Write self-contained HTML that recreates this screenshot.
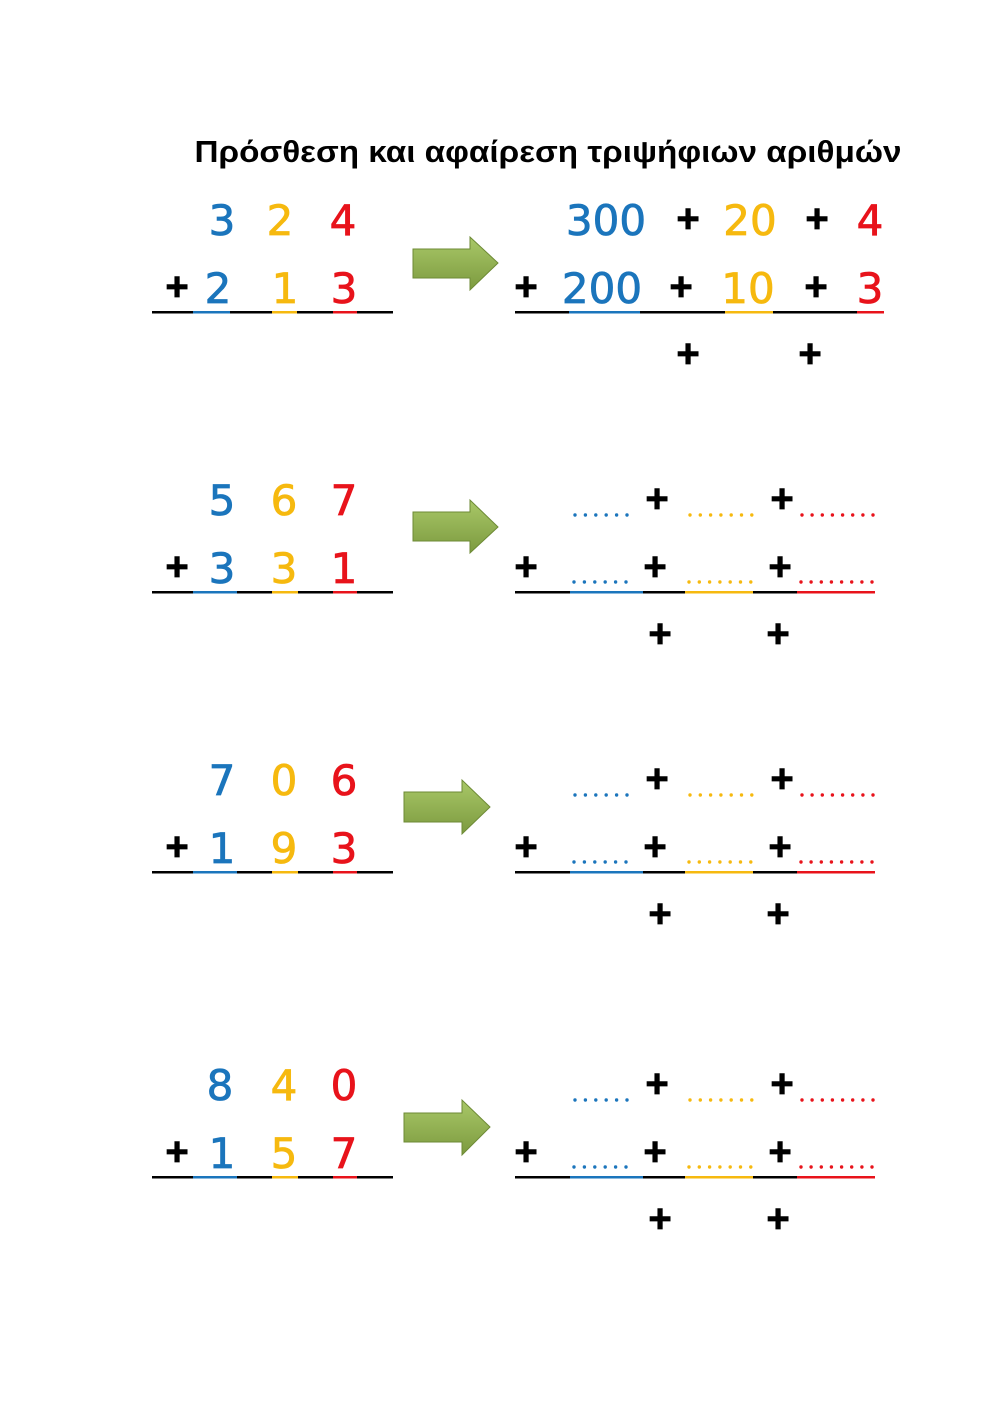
<!DOCTYPE html>
<html><head><meta charset="utf-8"><style>
html,body{margin:0;padding:0;background:#fff}
svg{display:block}
.d{font-family:"DejaVu Sans","Liberation Sans",sans-serif;font-size:42px;text-anchor:middle;stroke-width:0.8px}
.p{font-family:"Liberation Sans",sans-serif;font-size:40px;font-weight:bold;text-anchor:middle;fill:#000;stroke:#000;stroke-width:0.8px}
.b{fill:#1b75bc;stroke:#1b75bc}.y{fill:#f6b90f;stroke:#f6b90f}.r{fill:#e8131b;stroke:#e8131b}
rect.b,rect.y,rect.r,circle{stroke:none}
.t{font-family:"Liberation Sans","DejaVu Sans",sans-serif;font-size:31px;font-weight:bold;text-anchor:middle}
</style></head><body>
<svg width="1000" height="1413" viewBox="0 0 1000 1413" xmlns="http://www.w3.org/2000/svg">
<defs>
<linearGradient id="g" x1="0" y1="0" x2="0" y2="1">
<stop offset="0" stop-color="#a9c868"/><stop offset="1" stop-color="#7c9a3f"/></linearGradient>
</defs>
<text class="t" x="548" y="162" textLength="707" lengthAdjust="spacingAndGlyphs">Πρόσθεση και αφαίρεση τριψήφιων αριθμών</text>

<!-- Section 1 -->
<text class="d b" x="222" y="235">3</text><text class="d y" x="280" y="235">2</text><text class="d r" x="343" y="235">4</text>
<text class="p" x="177" y="300">+</text>
<text class="d b" x="218" y="303">2</text><text class="d y" x="285" y="303">1</text><text class="d r" x="344" y="303">3</text>
<rect x="152" y="311" width="241" height="2.5"/>
<rect x="193" y="311" width="37" height="2.5" class="b"/><rect x="272" y="311" width="25" height="2.5" class="y"/><rect x="333" y="311" width="24" height="2.5" class="r"/>
<polygon points="413,249 470,249 470,237 498,263 470,290 470,278 413,278" fill="url(#g)" stroke="#6d8a35" stroke-width="1"/>
<text class="d b" x="606" y="235">300</text><text class="p" x="688" y="232">+</text><text class="d y" x="750" y="235">20</text><text class="p" x="817" y="232">+</text><text class="d r" x="870" y="235">4</text>
<text class="p" x="526" y="300">+</text><text class="d b" x="602" y="303">200</text><text class="p" x="681" y="300">+</text><text class="d y" x="748" y="303">10</text><text class="p" x="816" y="300">+</text><text class="d r" x="870" y="303">3</text>
<rect x="515" y="311" width="369" height="2.5"/>
<rect x="569" y="311" width="71" height="2.5" class="b"/><rect x="725" y="311" width="48" height="2.5" class="y"/><rect x="857" y="311" width="27" height="2.5" class="r"/>
<text class="p" x="688" y="367">+</text><text class="p" x="810" y="367">+</text>

<!-- Section 2 -->
<g id="s2">
<rect x="152" y="591" width="241" height="2.5"/>
<rect x="193" y="591" width="44" height="2.5" class="b"/><rect x="272" y="591" width="26" height="2.5" class="y"/><rect x="333" y="591" width="24" height="2.5" class="r"/>
<text class="p" x="177" y="580">+</text>
<text class="p" x="657" y="512">+</text><text class="p" x="782" y="512">+</text>
<text class="p" x="526" y="580">+</text><text class="p" x="655" y="580">+</text><text class="p" x="780" y="580">+</text>
<rect x="515" y="591" width="360" height="2.5"/>
<rect x="570" y="591" width="73" height="2.5" class="b"/><rect x="685" y="591" width="68" height="2.5" class="y"/><rect x="797" y="591" width="78" height="2.5" class="r"/>
<g class="b"><circle cx="575" cy="515" r="1.7"/><circle cx="585.4" cy="515" r="1.7"/><circle cx="595.8" cy="515" r="1.7"/><circle cx="606.2" cy="515" r="1.7"/><circle cx="616.6" cy="515" r="1.7"/><circle cx="627" cy="515" r="1.7"/>
<circle cx="574" cy="582" r="1.7"/><circle cx="584.4" cy="582" r="1.7"/><circle cx="594.8" cy="582" r="1.7"/><circle cx="605.2" cy="582" r="1.7"/><circle cx="615.6" cy="582" r="1.7"/><circle cx="626" cy="582" r="1.7"/></g>
<g class="y"><circle cx="690" cy="515" r="1.7"/><circle cx="700.3" cy="515" r="1.7"/><circle cx="710.6" cy="515" r="1.7"/><circle cx="720.9" cy="515" r="1.7"/><circle cx="731.2" cy="515" r="1.7"/><circle cx="741.5" cy="515" r="1.7"/><circle cx="751.8" cy="515" r="1.7"/>
<circle cx="689" cy="582" r="1.7"/><circle cx="699.3" cy="582" r="1.7"/><circle cx="709.6" cy="582" r="1.7"/><circle cx="719.9" cy="582" r="1.7"/><circle cx="730.2" cy="582" r="1.7"/><circle cx="740.5" cy="582" r="1.7"/><circle cx="750.8" cy="582" r="1.7"/></g>
<g class="r"><circle cx="802" cy="515" r="1.7"/><circle cx="812.1" cy="515" r="1.7"/><circle cx="822.3" cy="515" r="1.7"/><circle cx="832.4" cy="515" r="1.7"/><circle cx="842.6" cy="515" r="1.7"/><circle cx="852.7" cy="515" r="1.7"/><circle cx="862.9" cy="515" r="1.7"/><circle cx="873" cy="515" r="1.7"/>
<circle cx="801" cy="582" r="1.7"/><circle cx="811.1" cy="582" r="1.7"/><circle cx="821.3" cy="582" r="1.7"/><circle cx="831.4" cy="582" r="1.7"/><circle cx="841.6" cy="582" r="1.7"/><circle cx="851.7" cy="582" r="1.7"/><circle cx="861.9" cy="582" r="1.7"/><circle cx="872" cy="582" r="1.7"/></g>
<text class="p" x="660" y="647">+</text><text class="p" x="778" y="647">+</text>
</g>
<text class="d b" x="222" y="515">5</text><text class="d y" x="284" y="515">6</text><text class="d r" x="344" y="515">7</text>
<text class="d b" x="222" y="583">3</text><text class="d y" x="284" y="583">3</text><text class="d r" x="344" y="583">1</text>
<polygon points="413,512 470,512 470,500 498,527 470,553 470,541 413,541" fill="url(#g)" stroke="#6d8a35" stroke-width="1"/>

<!-- Section 3 -->
<use href="#s2" transform="translate(0,280)"/>
<text class="d b" x="222" y="795">7</text><text class="d y" x="284" y="795">0</text><text class="d r" x="344" y="795">6</text>
<text class="d b" x="222" y="863">1</text><text class="d y" x="284" y="863">9</text><text class="d r" x="344" y="863">3</text>
<polygon points="404,792 462,792 462,780 490,807 462,834 462,822 404,822" fill="url(#g)" stroke="#6d8a35" stroke-width="1"/>

<!-- Section 4 -->
<use href="#s2" transform="translate(0,585)"/>
<text class="d b" x="220" y="1100">8</text><text class="d y" x="284" y="1100">4</text><text class="d r" x="344" y="1100">0</text>
<text class="d b" x="222" y="1168">1</text><text class="d y" x="284" y="1168">5</text><text class="d r" x="344" y="1168">7</text>
<polygon points="404,1113 462,1113 462,1100 490,1127 462,1155 462,1142 404,1142" fill="url(#g)" stroke="#6d8a35" stroke-width="1"/>
</svg>
</body></html>
